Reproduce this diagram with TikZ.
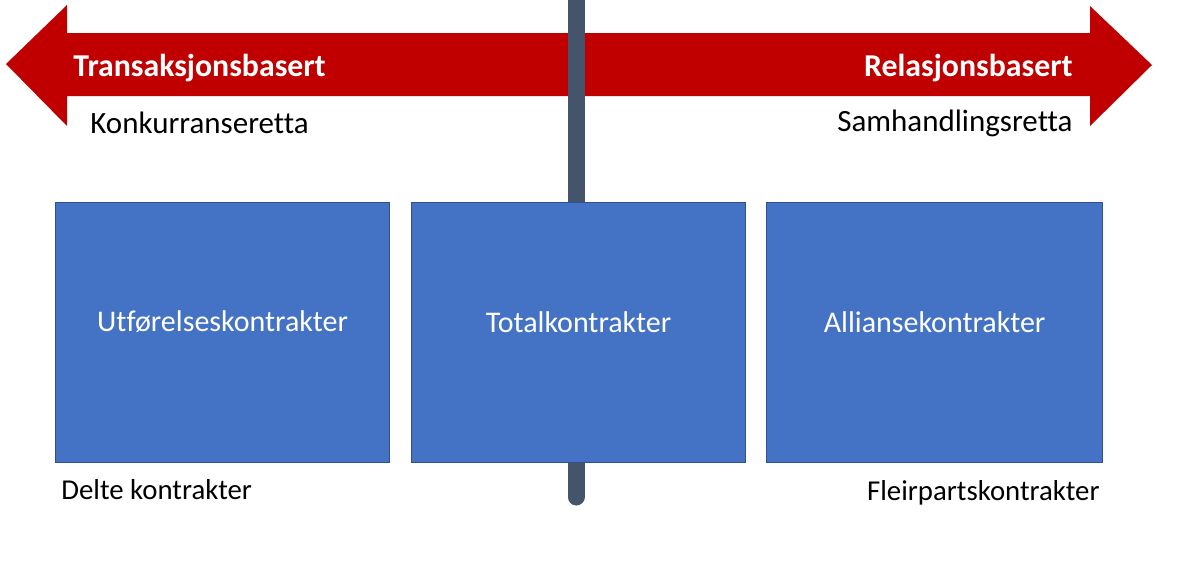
\documentclass[tikz,border=0pt]{standalone}
\usepackage{fontspec}
\setmainfont{Carlito}[Ligatures=NoCommon]
\definecolor{arrowred}{HTML}{C00000}
\definecolor{barslate}{HTML}{44546A}
\definecolor{boxblue}{HTML}{4472C4}
\definecolor{boxedge}{HTML}{2F528F}
\begin{document}
\begin{tikzpicture}[x=0.5pt,y=-0.5pt,
  contract/.style={draw=boxedge,line width=0.6pt,fill=boxblue,minimum width=167pt,minimum height=130pt,inner sep=0pt,anchor=north west},
  boxlabel/.style={text=white,font=\fontsize{15}{17}\selectfont},
  arrowlabel/.style={text=white,font=\fontsize{15.9}{18}\bfseries\selectfont,inner sep=0pt},
  sidelabel/.style={text=black,font=\fontsize{15.5}{17}\selectfont,inner sep=0pt},
  bottomlabel/.style={text=black,font=\fontsize{14.4}{17}\selectfont,inner sep=0pt}]
\useasboundingbox (0,0) rectangle (1200,573);
% double-headed arrow
\fill[arrowred] (6,64) -- (67,5) -- (67,33) -- (1090,33) -- (1090,6) -- (1152,65)
  -- (1090,126) -- (1090,96) -- (67,96) -- (67,126) -- cycle;
% vertical axis
\coordinate (bartop) at (576,0);
\coordinate (barbot) at (576,497);
\draw[barslate,line width=8.5pt,line cap=round] (bartop) -- (barbot);
\draw[barslate,line width=8.5pt] (576,0) -- (576,20);
% boxes
\node[contract] (b1) at (55,202) {};
\node[contract] (b2) at (411,202) {};
\node[contract,minimum width=168pt] (b3) at (766,202) {};
\node[boxlabel] at ([yshift=-60pt]b1.north) {Utførelseskontrakter};
\node[boxlabel] at ([yshift=-60pt]b2.north) {Totalkontrakter};
\node[boxlabel] at ([yshift=-60pt]b3.north) {Alliansekontrakter};
% arrow labels
\node[arrowlabel,anchor=west] (t) at (73,68) {Transaksjonsbasert};
\node[arrowlabel,anchor=east] (r) at (1073,68) {Relasjonsbasert};
\node[sidelabel,anchor=west] (k) at (90,123) {Konkurranseretta};
\node[sidelabel,anchor=east] (s) at (1073,123) {Samhandlingsretta};
\node[bottomlabel,anchor=west] (d) at (61,490) {Delte kontrakter};
\node[bottomlabel,anchor=east] (f) at (1100,493) {Fleirpartskontrakter};
\end{tikzpicture}
\end{document}
